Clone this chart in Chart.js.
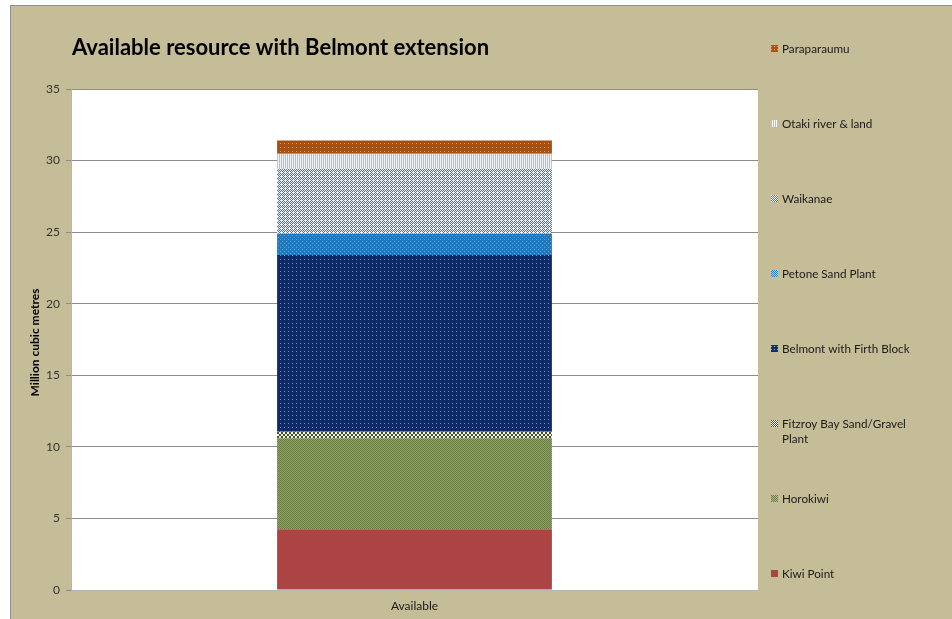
<!DOCTYPE html>
<html>
<head>
<meta charset="utf-8">
<script src="https://cdn.jsdelivr.net/npm/chart.js@4/dist/chart.umd.min.js"></script>
<style>
  html,body{margin:0;padding:0;background:#ffffff;}
  #wrap{position:absolute;left:10px;top:5px;width:941px;height:613px;background:#c4bd97;border-top:1px solid #8f8f8f;border-left:1px solid #8f8f8f;}
  canvas{display:block;}
</style>
</head>
<body>
<div id="wrap"><canvas id="c" width="941" height="613"></canvas></div>
<script>
// ---- data ----
const categories = ['Available'];
const seriesNames = ['Kiwi Point','Horokiwi','Fitzroy Bay Sand/Gravel Plant','Belmont with Firth Block','Petone Sand Plant','Waikanae','Otaki river & land','Paraparaumu'];
const kiwiPoint = [4.25];
const horokiwi = [6.35];
const fitzroy = [0.45];
const belmont = [12.35];
const petone = [1.48];
const waikanae = [4.55];
const otaki = [1.05];
const paraparaumu = [0.93];
const seriesValues = [kiwiPoint, horokiwi, fitzroy, belmont, petone, waikanae, otaki, paraparaumu];
const yTicks = [0,5,10,15,20,25,30,35];
const chartTitle = 'Available resource with Belmont extension';
const yTitle = 'Million cubic metres';

// ---- pattern fills ----
function pat(size, bg, fg, cells){
  const c = document.createElement('canvas');
  c.width = size; c.height = size;
  const g = c.getContext('2d');
  g.fillStyle = bg; g.fillRect(0,0,size,size);
  g.fillStyle = fg;
  cells.forEach(p => g.fillRect(p[0],p[1],1,1));
  return g.createPattern(c,'repeat');
}
const ctx0 = document.getElementById('c').getContext('2d');
const fills = [
  '#ab4442',
  pat(2,'#6b7f42','#8fa266',[[0,0],[1,1]]),
  pat(4,'#f2f2ea','#3f4d28',[[0,0],[1,0],[0,1],[1,1],[2,2],[3,2],[2,3],[3,3]]),
  pat(4,'#0e2a68','#7f93c0',[[1,1]]),
  pat(4,'#1f77bd','#63a6dc',[[1,1],[3,3]]),
  pat(4,'#eaf1f6','#4a7697',[[0,0],[2,0],[1,1],[3,1],[0,2],[1,3],[3,3]]),
  pat(2,'#eef2f5','#b3c2cd',[[0,0],[0,1]]),
  pat(4,'#a54f10','#d59a6a',[[1,1]])
];
const legendFills = [
  '#ab4442',
  pat(2,'#6b7f42','#a9b98a',[[0,0],[1,1]]),
  pat(2,'#ffffff','#3f4d28',[[0,0],[1,1]]),
  pat(3,'#11306e','#9aaad0',[[1,1]]),
  pat(2,'#2a86cf','#9cc8ec',[[0,0],[1,1]]),
  pat(2,'#ffffff','#4a7697',[[0,0],[1,1]]),
  pat(2,'#ffffff','#b3c2cd',[[0,0],[0,1]]),
  pat(3,'#b0540f','#d59a6a',[[1,1]])
];

const datasets = seriesNames.map((n,i)=>({
  label:n, data:seriesValues[i], backgroundColor:fills[i], borderWidth:0,
  categoryPercentage:1, barPercentage:0.4
}));

const FONT = 'Lato, "Open Sans", sans-serif';

const plotBg = {
  id:'plotBg',
  beforeDraw(chart){
    const g = chart.ctx, a = chart.chartArea;
    g.save();
    g.fillStyle = '#ffffff';
    g.fillRect(a.left, a.top, a.right - a.left, a.bottom - a.top);
    g.restore();
  }
};

const decor = {
  id:'decor',
  afterDraw(chart){
    const g = chart.ctx, a = chart.chartArea;
    g.save();
    // title
    g.fillStyle = '#000000';
    g.font = 'bold 22px ' + FONT;
    g.textBaseline = 'middle'; g.textAlign = 'left';
    g.fillText(chartTitle, a.left + 1, 42);
    // y axis title
    g.save();
    g.translate(24, (a.top + a.bottom)/2 + 3);
    g.rotate(-Math.PI/2);
    g.textAlign = 'center';
    g.font = 'bold 12px ' + FONT;
    g.fillText(yTitle, 0, 0);
    g.restore();
    // legend (reverse order, evenly spaced)
    const n = seriesNames.length;
    const top = 43, bottom = 568, step = (bottom - top)/(n-1);
    const x = a.right + 13;
    g.font = '11.7px ' + FONT;
    g.textAlign = 'left';
    for (let k = 0; k < n; k++){
      const i = n - 1 - k;
      const y = top + k*step;
      g.fillStyle = legendFills[i];
      g.fillRect(x, y-4, 7, 7);
      g.fillStyle = '#1a1a1a';
      const name = seriesNames[i];
      if (name === 'Fitzroy Bay Sand/Gravel Plant'){
        g.fillText('Fitzroy Bay Sand/Gravel', x + 11, y);
        g.fillText('Plant', x + 11, y + 15);
      } else {
        g.fillText(name, x + 11, y);
      }
    }
    g.restore();
  }
};

new Chart(ctx0, {
  type:'bar',
  data:{labels:categories, datasets},
  options:{
    responsive:false,
    animation:false,
    layout:{padding:{top:83,right:194,left:0,bottom:0}},
    plugins:{legend:{display:false}, title:{display:false}, tooltip:{enabled:false}},
    scales:{
      x:{
        stacked:true,
        grid:{display:false, drawTicks:false},
        border:{display:true,color:'#b5b5b5',width:1},
        ticks:{color:'#1a1a1a', font:{family:FONT,size:12}, padding:9},
        afterFit(s){ s.height = 29; }
      },
      y:{
        stacked:true, min:0, max:35,
        afterBuildTicks(s){ s.ticks = yTicks.map(v=>({value:v})); },
        grid:{color:'#8c8c8c', lineWidth:1, tickLength:5},
        border:{display:true,color:'#b5b5b5',width:1},
        ticks:{color:'#333333', font:{family:FONT,size:12}, padding:6},
        afterFit(s){ s.width = 60; }
      }
    }
  },
  plugins:[plotBg, decor]
});
</script>
</body>
</html>
